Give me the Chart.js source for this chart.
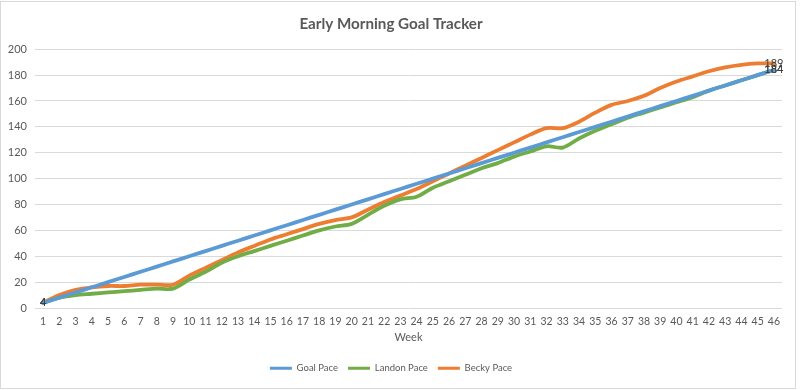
<!DOCTYPE html>
<html>
<head>
<meta charset="utf-8">
<script src="https://cdn.jsdelivr.net/npm/chart.js@4.4.1/dist/chart.umd.min.js"></script>
<style>
  html, body { margin: 0; padding: 0; background: #ffffff; }
  #wrap { position: relative; width: 800px; height: 390px; }
</style>
</head>
<body>
<div id="wrap"><canvas id="c" width="800" height="390"></canvas></div>
<script>
const weeks = ['1','2','3','4','5','6','7','8','9','10','11','12','13','14','15','16','17','18','19','20','21','22','23','24','25','26','27','28','29','30','31','32','33','34','35','36','37','38','39','40','41','42','43','44','45','46'];
const goalPace = [4,8,12,16,20,24,28,32,36,40,44,48,52,56,60,64,68,72,76,80,84,88,92,96,100,104,108,112,116,120,124,128,132,136,140,144,148,152,156,160,164,168,172,176,180,184];
const landonPace = [4,8,10,11,12,13,14,15,15,22,28,35,40,44,48,52,56,60,63,65,72,79,84,86,93,98,103,108,112,117,121,125,124,131,137,142,147,151,155,159,163,168,172,176,180,184];
const beckyPace = [4,10,14,16,17,17,18,18,18,25,31,37,43,48,53,57,61,65,68,70,76,82,87,92,98,104,110,116,122,128,134,139,139,144,151,157,160,164,170,175,179,183,186,188,189,189];
const seriesNames = ['Goal Pace','Landon Pace','Becky Pace'];
const seriesColors = ['#5B9BD5','#70AD47','#ED7D31'];

const FONT = 'Lato, "Open Sans", sans-serif';
const GREY = '#595959';

const frame = {
  id: 'frame',
  beforeDraw(chart) {
    const ctx = chart.ctx;
    ctx.save();
    ctx.fillStyle = '#ffffff';
    ctx.fillRect(0, 0, chart.width, chart.height);
    ctx.strokeStyle = '#d9d9d9';
    ctx.lineWidth = 1;
    ctx.strokeRect(0.5, 1.5, 795, 387);
    ctx.restore();
  }
};

const endLabels = {
  id: 'endLabels',
  afterDatasetsDraw(chart) {
    const ctx = chart.ctx;
    ctx.save();
    ctx.font = '11px ' + FONT;
    ctx.fillStyle = '#404040';
    ctx.textAlign = 'center';
    ctx.textBaseline = 'middle';
    chart.data.datasets.forEach((ds, i) => {
      const pts = chart.getDatasetMeta(i).data;
      const first = pts[0], last = pts[pts.length - 1];
      ctx.fillText(String(ds.data[0]), first.x, first.y);
      ctx.fillText(String(ds.data[ds.data.length - 1]), last.x, last.y);
    });
    ctx.restore();
  }
};

new Chart(document.getElementById('c'), {
  type: 'line',
  data: {
    labels: weeks,
    datasets: [
      { label: seriesNames[0], data: goalPace, borderColor: seriesColors[0], backgroundColor: seriesColors[0] },
      { label: seriesNames[1], data: landonPace, borderColor: seriesColors[1], backgroundColor: seriesColors[1] },
      { label: seriesNames[2], data: beckyPace, borderColor: seriesColors[2], backgroundColor: seriesColors[2] }
    ]
  },
  options: {
    responsive: false,
    animation: false,
    devicePixelRatio: 1,
    layout: { padding: { left: 0, right: 18, top: 0, bottom: 7 } },
    elements: {
      line: { borderWidth: 3.8, tension: 0.3, borderCapStyle: 'round', borderJoinStyle: 'round' },
      point: { radius: 0, hoverRadius: 0 }
    },
    plugins: {
      title: {
        display: true,
        text: 'Early Morning Goal Tracker',
        color: GREY,
        font: { family: FONT, size: 15.2, weight: 'bold', lineHeight: 1.2 },
        padding: { top: 15, bottom: 16 }
      },
      legend: {
        position: 'bottom',
        labels: {
          color: GREY,
          font: { family: FONT, size: 9.5 },
          boxWidth: 22,
          boxHeight: 3,
          padding: 10,
          generateLabels(chart) {
            return chart.data.datasets.map((ds, i) => ({
              text: ds.label,
              fillStyle: ds.borderColor,
              strokeStyle: ds.borderColor,
              lineWidth: 0,
              hidden: false,
              datasetIndex: i,
              fontColor: GREY
            }));
          }
        }
      },
      tooltip: { enabled: false }
    },
    scales: {
      x: {
        type: 'category',
        offset: true,
        grid: { display: false, drawTicks: false },
        border: { display: false },
        ticks: { color: GREY, font: { family: FONT, size: 10.5, lineHeight: 1 }, autoSkip: false, maxRotation: 0, padding: 8 },
        title: { display: true, text: 'Week', color: GREY, font: { family: FONT, size: 11, lineHeight: 1 }, padding: { top: -3, bottom: 11 } }
      },
      y: {
        min: 0,
        max: 200,
        grid: { color: '#d9d9d9', drawTicks: false, lineWidth: 1 },
        border: { display: false },
        ticks: { stepSize: 20, color: GREY, font: { family: FONT, size: 11 }, padding: 8 },
        afterFit(scale) { scale.width = 35; }
      }
    }
  },
  plugins: [frame, endLabels]
});
</script>
</body>
</html>
